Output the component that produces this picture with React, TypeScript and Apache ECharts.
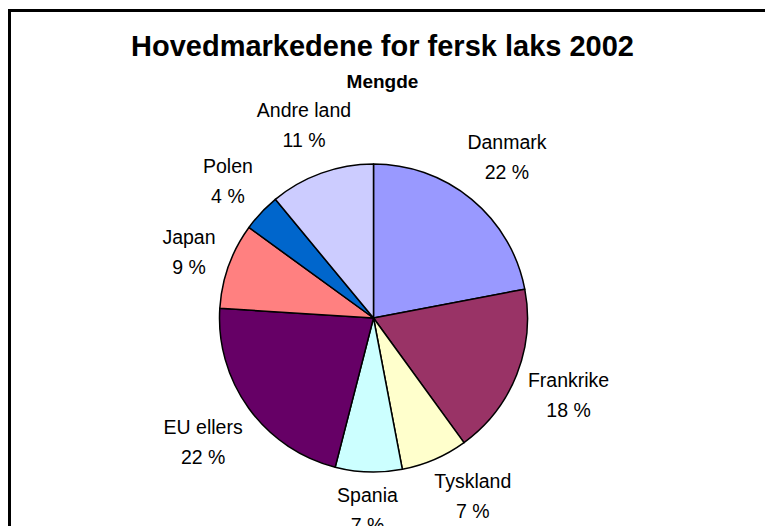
import React, { useEffect, useRef } from "react";
import * as echarts from "echarts";

const categories = ["Danmark", "Frankrike", "Tyskland", "Spania", "EU ellers", "Japan", "Polen", "Andre land"];
const values = [22, 18, 7, 7, 22, 9, 4, 11];
const colors = ["#9999FF", "#993366", "#FFFFCC", "#CCFFFF", "#660066", "#FF8080", "#0066CC", "#CCCCFF"];
const titleText = "Hovedmarkedene for fersk laks 2002";
const subtitleText = "Mengde";

const W = 765;
const H = 526;
const CX = 373.5;
const CY = 318;
const R = 154;
const GAP = 7;
const MAX_NUDGE = (12 * Math.PI) / 180;

export default function App() {
  const ref = useRef<HTMLDivElement>(null);
  useEffect(() => {
    if (!ref.current) return;
    const chart = echarts.init(ref.current, null, { renderer: "svg" });
    const total = values.reduce((a, b) => a + b, 0);
    const cum: number[] = [];
    let acc = 0;
    for (const v of values) {
      cum.push(acc);
      acc += v;
    }
    chart.setOption({
      animation: false,
      backgroundColor: "#ffffff",
      title: [
        {
          text: titleText,
          left: "center",
          top: 31,
          padding: 0,
          textStyle: { fontFamily: "Liberation Sans, Arial", fontSize: 29, fontWeight: "bold", color: "#000", lineHeight: 30 },
        },
        {
          text: subtitleText,
          left: "center",
          top: 71,
          padding: 0,
          textStyle: { fontFamily: "Liberation Sans, Arial", fontSize: 19, fontWeight: "bold", color: "#000", lineHeight: 20 },
        },
      ],
      graphic: [
        {
          type: "rect",
          shape: { x: 9.5, y: 10.5, width: 900, height: 700 },
          style: { fill: "none", stroke: "#000", lineWidth: 3 },
          silent: true,
          z: 100,
        },
      ],
      series: [
        {
          type: "pie",
          center: [CX, CY],
          radius: [0, R],
          startAngle: 90,
          clockwise: true,
          avoidLabelOverlap: false,
          itemStyle: { borderColor: "#000", borderWidth: 1.5 },
          label: {
            show: true,
            position: "outside",
            formatter: "{b}\n{c} %",
            fontFamily: "Liberation Sans, Arial",
            fontSize: 19.5,
            lineHeight: 30,
            color: "#000",
            align: "center",
          },
          labelLine: { show: false },
          labelLayout: (p: any) => {
            const i = p.dataIndex;
            let a = ((cum[i] + values[i] / 2) / total) * Math.PI * 2;
            const s = Math.sin(a);
            const c = Math.cos(a);
            const w = p.labelRect.width;
            const h = p.labelRect.height;
            const ext = (w / 2) * Math.abs(s) + (h / 2) * Math.abs(c);
            const d = R + GAP + ext;
            // keep the label inside the chart by sliding it round the pie, if a small nudge suffices
            if (CY - d * c + h / 2 > H) {
              const k = (CY - H + h / 2) / d;
              if (k > -1 && k < 1) {
                const base = Math.acos(k);
                const target = s >= 0 ? base : Math.PI * 2 - base;
                if (Math.abs(target - a) <= MAX_NUDGE) a = target;
              }
            }
            return { x: CX + d * Math.sin(a), y: CY - d * Math.cos(a), align: "center", verticalAlign: "middle" };
          },
          emphasis: { disabled: true },
          data: categories.map((name, i) => ({ name, value: values[i], itemStyle: { color: colors[i] } })),
        },
      ],
    });
    return () => chart.dispose();
  }, []);
  return <div ref={ref} style={{ position: "fixed", left: 0, top: 0, width: W, height: H }} />;
}
